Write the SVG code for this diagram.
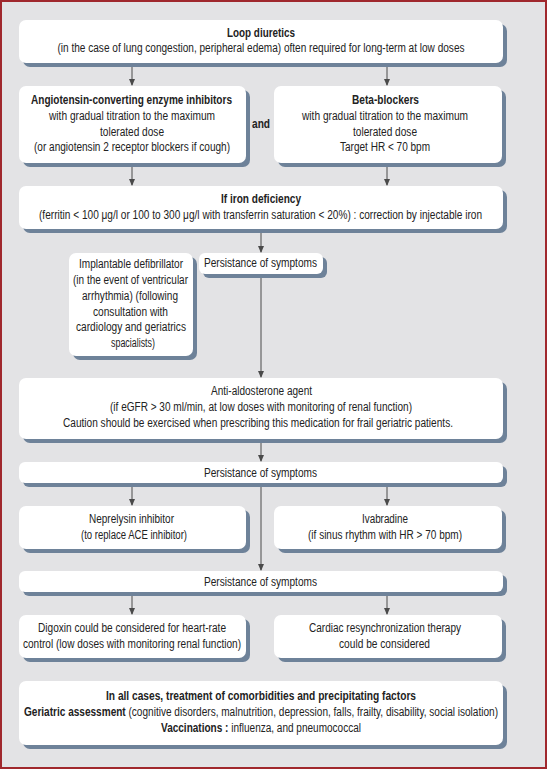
<svg xmlns="http://www.w3.org/2000/svg" width="548" height="771" viewBox="0 0 548 771">
<defs>
<style>
.sh{fill:#6e8299}
.bx{fill:#ffffff}
text{font-family:"Liberation Sans",Arial,sans-serif;font-size:12px;fill:#222;text-anchor:middle}
.b{font-weight:bold}
.ln{stroke:#4a4a4a;stroke-width:1;fill:none}
</style>
<marker id="ah" viewBox="0 0 8 8" refX="7" refY="4" markerWidth="7" markerHeight="7" markerUnits="userSpaceOnUse" orient="auto">
<path d="M0,0.5 L8,4 L0,7.5 Z" fill="#4a4a4a"/>
</marker>
</defs>
<rect x="0" y="0" width="548" height="771" fill="#ffffff"/>
<rect x="1" y="1" width="545" height="767" fill="#e3e3e5" stroke="#a0282d" stroke-width="2"/>

<g id="connectors">
<line class="ln" x1="132" y1="67" x2="132" y2="85" marker-end="url(#ah)"/>
<line class="ln" x1="387" y1="67" x2="387" y2="85" marker-end="url(#ah)"/>
<line class="ln" x1="132" y1="167" x2="132" y2="185" marker-end="url(#ah)"/>
<line class="ln" x1="387" y1="167" x2="387" y2="185" marker-end="url(#ah)"/>
<line class="ln" x1="261" y1="233" x2="261" y2="252" marker-end="url(#ah)"/>
<line class="ln" x1="261" y1="277" x2="261" y2="377" marker-end="url(#ah)"/>
<line class="ln" x1="261" y1="443" x2="261" y2="461" marker-end="url(#ah)"/>
<line class="ln" x1="132" y1="487" x2="132" y2="505" marker-end="url(#ah)"/>
<line class="ln" x1="387" y1="487" x2="387" y2="505" marker-end="url(#ah)"/>
<line class="ln" x1="261" y1="487" x2="261" y2="570" marker-end="url(#ah)"/>
<line class="ln" x1="132" y1="596" x2="132" y2="614" marker-end="url(#ah)"/>
<line class="ln" x1="387" y1="596" x2="387" y2="614" marker-end="url(#ah)"/>
</g>

<g id="loop">
<rect class="sh" x="23" y="24" width="484" height="43" rx="7"/>
<rect class="bx" x="19" y="20" width="484" height="43" rx="7"/>
<text class="b" x="261" y="37" textLength="68" lengthAdjust="spacingAndGlyphs">Loop diuretics</text>
<text x="261" y="52" textLength="407" lengthAdjust="spacingAndGlyphs">(in the case of lung congestion, peripheral edema) often required for long-term at low doses</text>
</g>

<g id="ace">
<rect class="sh" x="23" y="90" width="227" height="77" rx="7"/>
<rect class="bx" x="19" y="86" width="227" height="77" rx="7"/>
<text class="b" x="131.5" y="104" textLength="201" lengthAdjust="spacingAndGlyphs">Angiotensin-converting enzyme inhibitors</text>
<text x="132" y="120" textLength="166" lengthAdjust="spacingAndGlyphs">with gradual titration to the maximum</text>
<text x="132" y="136" textLength="64" lengthAdjust="spacingAndGlyphs">tolerated dose</text>
<text x="132" y="151" textLength="196" lengthAdjust="spacingAndGlyphs">(or angiotensin 2 receptor blockers if cough)</text>
</g>

<g id="and">
<text class="b" x="261" y="128" textLength="18" lengthAdjust="spacingAndGlyphs">and</text>
</g>

<g id="beta">
<rect class="sh" x="278" y="90" width="228" height="77" rx="7"/>
<rect class="bx" x="274" y="86" width="228" height="77" rx="7"/>
<text class="b" x="385.5" y="104" textLength="67" lengthAdjust="spacingAndGlyphs">Beta-blockers</text>
<text x="385" y="120" textLength="166" lengthAdjust="spacingAndGlyphs">with gradual titration to the maximum</text>
<text x="385" y="136" textLength="64" lengthAdjust="spacingAndGlyphs">tolerated dose</text>
<text x="385" y="151" textLength="90" lengthAdjust="spacingAndGlyphs">Target HR &lt; 70 bpm</text>
</g>

<g id="iron">
<rect class="sh" x="23" y="190" width="484" height="43" rx="7"/>
<rect class="bx" x="19" y="186" width="484" height="43" rx="7"/>
<text class="b" x="261" y="203" textLength="80" lengthAdjust="spacingAndGlyphs">If iron deficiency</text>
<text x="260.5" y="219" textLength="443" lengthAdjust="spacingAndGlyphs">(ferritin &lt; 100 μg/l or 100 to 300 μg/l with transferrin saturation &lt; 20%) : correction by injectable iron</text>
</g>

<g id="implantable">
<rect class="sh" x="73" y="257" width="124" height="103" rx="7"/>
<rect class="bx" x="69" y="253" width="124" height="103" rx="7"/>
<text x="131" y="268" textLength="104" lengthAdjust="spacingAndGlyphs">Implantable defibrillator</text>
<text x="130.5" y="284" textLength="115" lengthAdjust="spacingAndGlyphs">(in the event of ventricular</text>
<text x="130" y="300" textLength="96" lengthAdjust="spacingAndGlyphs">arrhythmia) (following</text>
<text x="130.5" y="316" textLength="75" lengthAdjust="spacingAndGlyphs">consultation with</text>
<text x="131" y="331" textLength="110" lengthAdjust="spacingAndGlyphs">cardiology and geriatrics</text>
<text x="133" y="347" textLength="44" lengthAdjust="spacingAndGlyphs">spacialists)</text>
</g>

<g id="persist1">
<rect class="sh" x="203" y="257" width="124" height="21" rx="6"/>
<rect class="bx" x="199" y="253" width="124" height="21" rx="6"/>
<text x="260.5" y="267" textLength="113" lengthAdjust="spacingAndGlyphs">Persistance of symptoms</text>
</g>

<g id="antialdo">
<rect class="sh" x="23" y="382" width="484" height="61" rx="7"/>
<rect class="bx" x="19" y="378" width="484" height="61" rx="7"/>
<text x="261.5" y="395" textLength="101" lengthAdjust="spacingAndGlyphs">Anti-aldosterone agent</text>
<text x="261" y="411" textLength="302" lengthAdjust="spacingAndGlyphs">(if eGFR &gt; 30 ml/min, at low doses with monitoring of renal function)</text>
<text x="258" y="427" textLength="390" lengthAdjust="spacingAndGlyphs">Caution should be exercised when prescribing this medication for frail geriatric patients.</text>
</g>

<g id="persist2">
<rect class="sh" x="23" y="466" width="484" height="21" rx="6"/>
<rect class="bx" x="19" y="462" width="484" height="21" rx="6"/>
<text x="260.5" y="477" textLength="113" lengthAdjust="spacingAndGlyphs">Persistance of symptoms</text>
</g>

<g id="neprelysin">
<rect class="sh" x="23" y="510" width="227" height="43" rx="7"/>
<rect class="bx" x="19" y="506" width="227" height="43" rx="7"/>
<text x="131.5" y="523" textLength="85" lengthAdjust="spacingAndGlyphs">Neprelysin inhibitor</text>
<text x="134" y="539" textLength="106" lengthAdjust="spacingAndGlyphs">(to replace ACE inhibitor)</text>
</g>

<g id="ivabradine">
<rect class="sh" x="278" y="510" width="228" height="43" rx="7"/>
<rect class="bx" x="274" y="506" width="228" height="43" rx="7"/>
<text x="385" y="523" textLength="46" lengthAdjust="spacingAndGlyphs">Ivabradine</text>
<text x="385" y="539" textLength="154" lengthAdjust="spacingAndGlyphs">(if sinus rhythm with HR &gt; 70 bpm)</text>
</g>

<g id="persist3">
<rect class="sh" x="23" y="575" width="484" height="21" rx="6"/>
<rect class="bx" x="19" y="571" width="484" height="21" rx="6"/>
<text x="260.5" y="586" textLength="113" lengthAdjust="spacingAndGlyphs">Persistance of symptoms</text>
</g>

<g id="digoxin">
<rect class="sh" x="23" y="619" width="227" height="43" rx="7"/>
<rect class="bx" x="19" y="615" width="227" height="43" rx="7"/>
<text x="132" y="632" textLength="188" lengthAdjust="spacingAndGlyphs">Digoxin could be considered for heart-rate</text>
<text x="132" y="648" textLength="218" lengthAdjust="spacingAndGlyphs">control (low doses with monitoring renal function)</text>
</g>

<g id="crt">
<rect class="sh" x="278" y="619" width="228" height="43" rx="7"/>
<rect class="bx" x="274" y="615" width="228" height="43" rx="7"/>
<text x="385" y="632" textLength="152" lengthAdjust="spacingAndGlyphs">Cardiac resynchronization therapy</text>
<text x="384.5" y="648" textLength="91" lengthAdjust="spacingAndGlyphs">could be considered</text>
</g>

<g id="allcases">
<rect class="sh" x="23" y="685" width="484" height="64" rx="7"/>
<rect class="bx" x="19" y="681" width="484" height="64" rx="7"/>
<text class="b" x="261" y="700" textLength="310" lengthAdjust="spacingAndGlyphs">In all cases, treatment of comorbidities and precipitating factors</text>
<text x="261" y="716" textLength="474" lengthAdjust="spacingAndGlyphs"><tspan class="b">Geriatric assessment</tspan> (cognitive disorders, malnutrition, depression, falls, frailty, disability, social isolation)</text>
<text x="261" y="732" textLength="200" lengthAdjust="spacingAndGlyphs"><tspan class="b">Vaccinations :</tspan> influenza, and pneumococcal</text>
</g>
</svg>
